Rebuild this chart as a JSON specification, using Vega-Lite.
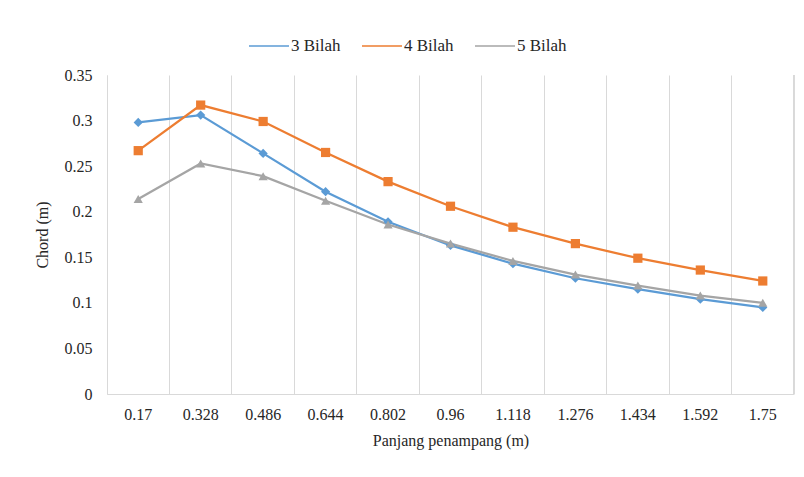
{
  "$schema": "https://vega.github.io/schema/vega-lite/v6.json",
  "autosize": "none",
  "width": 687,
  "height": 319,
  "padding": {"left": 107, "top": 75, "right": 10, "bottom": 83},
  "background": "white",
  "config": {
    "font": "Times New Roman",
    "view": {"stroke": null},
    "axis": {"labelFont": "Times New Roman", "titleFont": "Times New Roman", "labelColor": "#262626", "titleColor": "#262626", "labelFontSize": 16, "titleFontSize": 16, "titleFontWeight": "normal"},
    "legend": {"labelFont": "Times New Roman", "labelFontSize": 17, "labelColor": "#262626"}
  },
  "data": {
    "values": [
      {"x": "0.17", "s": "3 Bilah", "y": 0.298}, {"x": "0.328", "s": "3 Bilah", "y": 0.306}, {"x": "0.486", "s": "3 Bilah", "y": 0.264}, {"x": "0.644", "s": "3 Bilah", "y": 0.222}, {"x": "0.802", "s": "3 Bilah", "y": 0.189}, {"x": "0.96", "s": "3 Bilah", "y": 0.163}, {"x": "1.118", "s": "3 Bilah", "y": 0.143}, {"x": "1.276", "s": "3 Bilah", "y": 0.127}, {"x": "1.434", "s": "3 Bilah", "y": 0.115}, {"x": "1.592", "s": "3 Bilah", "y": 0.104}, {"x": "1.75", "s": "3 Bilah", "y": 0.095},
      {"x": "0.17", "s": "4 Bilah", "y": 0.267}, {"x": "0.328", "s": "4 Bilah", "y": 0.317}, {"x": "0.486", "s": "4 Bilah", "y": 0.299}, {"x": "0.644", "s": "4 Bilah", "y": 0.265}, {"x": "0.802", "s": "4 Bilah", "y": 0.233}, {"x": "0.96", "s": "4 Bilah", "y": 0.206}, {"x": "1.118", "s": "4 Bilah", "y": 0.183}, {"x": "1.276", "s": "4 Bilah", "y": 0.165}, {"x": "1.434", "s": "4 Bilah", "y": 0.149}, {"x": "1.592", "s": "4 Bilah", "y": 0.136}, {"x": "1.75", "s": "4 Bilah", "y": 0.124},
      {"x": "0.17", "s": "5 Bilah", "y": 0.214}, {"x": "0.328", "s": "5 Bilah", "y": 0.253}, {"x": "0.486", "s": "5 Bilah", "y": 0.239}, {"x": "0.644", "s": "5 Bilah", "y": 0.212}, {"x": "0.802", "s": "5 Bilah", "y": 0.186}, {"x": "0.96", "s": "5 Bilah", "y": 0.165}, {"x": "1.118", "s": "5 Bilah", "y": 0.146}, {"x": "1.276", "s": "5 Bilah", "y": 0.131}, {"x": "1.434", "s": "5 Bilah", "y": 0.119}, {"x": "1.592", "s": "5 Bilah", "y": 0.108}, {"x": "1.75", "s": "5 Bilah", "y": 0.100}
    ]
  },
  "encoding": {
    "x": {"field": "x", "type": "ordinal",
      "scale": {"domain": ["0.17", "0.328", "0.486", "0.644", "0.802", "0.96", "1.118", "1.276", "1.434", "1.592", "1.75"], "paddingInner": 0, "paddingOuter": 0},
      "axis": {"title": "Panjang penampang (m)", "labelAngle": 0, "bandPosition": 0, "grid": true, "gridColor": "#D9D9D9", "domainColor": "#D9D9D9", "ticks": false, "labelPadding": 12, "titlePadding": 10}},
    "y": {"field": "y", "type": "quantitative",
      "scale": {"domain": [0, 0.35]},
      "axis": {"title": "Chord (m)", "format": ".2~f", "values": [0, 0.05, 0.1, 0.15, 0.2, 0.25, 0.3, 0.35], "grid": false, "domainColor": "#D9D9D9", "ticks": false, "labelPadding": 15, "titlePadding": 14}},
    "color": {"field": "s", "type": "nominal",
      "scale": {"domain": ["3 Bilah", "4 Bilah", "5 Bilah"], "range": ["#5B9BD5", "#ED7D31", "#A5A5A5"]},
      "legend": {"title": null, "orient": "none", "direction": "horizontal", "legendX": 141, "legendY": -50, "symbolSize": 1600, "columnPadding": 18, "labelOffset": 1,
        "encoding": {"symbols": {"update": {
          "shape": {"signal": "datum.label === '3 Bilah' ? 'M-1,0 L1,0 M0,-0.12 L0.12,0 L0,0.12 L-0.12,0 Z' : datum.label === '4 Bilah' ? 'M-1,0 L1,0 M-0.1,-0.1 L0.1,-0.1 L0.1,0.1 L-0.1,0.1 Z' : 'M-1,0 L1,0 M0,-0.13 L0.13,0.1 L-0.13,0.1 Z'"},
          "fill": {"signal": "datum.label === '3 Bilah' ? '#5B9BD5' : datum.label === '4 Bilah' ? '#ED7D31' : '#A5A5A5'"},
          "stroke": {"signal": "datum.label === '3 Bilah' ? '#5B9BD5' : datum.label === '4 Bilah' ? '#ED7D31' : '#A5A5A5'"},
          "strokeWidth": {"value": 2.5},
          "opacity": {"value": 1},
          "fillOpacity": {"value": 1},
          "strokeOpacity": {"value": 1}
        }}}}}
  },
  "layer": [
    {
      "mark": {"type": "rule", "color": "#D9D9D9", "strokeWidth": 1},
      "encoding": {
        "x": {"datum": "1.75", "type": "ordinal", "bandPosition": 1},
        "y": {"datum": 0, "type": "quantitative"},
        "y2": {"datum": 0.35},
        "color": {"value": "#D9D9D9"}
      }
    },
    {
      "mark": {"type": "line", "strokeWidth": 2.25}
    },
    {
      "mark": {"type": "point", "filled": true, "opacity": 1, "size": 85},
      "encoding": {
        "shape": {"condition": [{"test": "datum.s === '3 Bilah'", "value": "diamond"}, {"test": "datum.s === '4 Bilah'", "value": "square"}], "value": "triangle-up"}
      }
    }
  ]
}
